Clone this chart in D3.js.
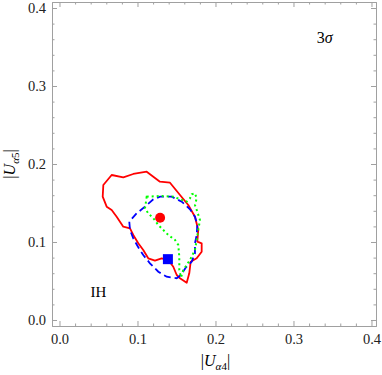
<!DOCTYPE html>
<html>
<head>
<meta charset="utf-8">
<script src="https://cdn.jsdelivr.net/npm/d3@7"></script>
<style>
	body { margin: 0; background: #fff; }
	svg text { font-family: 'Liberation Serif', 'DejaVu Serif', serif; }
</style>
</head>
<body>
<div id="graphic"></div>
<script>
// contour values: [|U_a4|, |U_a5|]
const redContour = [
	[0.0669, 0.1859], [0.0818, 0.1829], [0.0946, 0.1872], [0.1118, 0.1901], [0.1288, 0.1773],
	[0.1417, 0.1760], [0.1545, 0.1603], [0.1651, 0.1474], [0.1737, 0.1324], [0.1779, 0.1154],
	[0.1767, 0.1004], [0.1823, 0.0983], [0.1823, 0.0876], [0.1759, 0.0791], [0.1682, 0.0747],
	[0.1664, 0.0599], [0.1631, 0.0478], [0.1545, 0.0535], [0.1503, 0.0577], [0.1459, 0.0683],
	[0.1395, 0.0769], [0.1310, 0.0791], [0.1224, 0.0760], [0.1138, 0.0791], [0.1074, 0.0897],
	[0.1010, 0.0983], [0.0946, 0.1090], [0.0904, 0.1176], [0.0818, 0.1196], [0.0733, 0.1324],
	[0.0669, 0.1410], [0.0605, 0.1453], [0.0554, 0.1581], [0.0562, 0.1731]
];
const blueContour = [
	[0.0895, 0.1260], [0.0904, 0.1154], [0.0946, 0.1047], [0.1010, 0.0932], [0.1074, 0.0833],
	[0.1160, 0.0727], [0.1267, 0.0619], [0.1374, 0.0555], [0.1503, 0.0535], [0.1558, 0.0577],
	[0.1622, 0.0676], [0.1695, 0.0747], [0.1737, 0.0855], [0.1737, 0.0983], [0.1759, 0.1090],
	[0.1767, 0.1218], [0.1737, 0.1324], [0.1673, 0.1419], [0.1567, 0.1517], [0.1438, 0.1581],
	[0.1288, 0.1581], [0.1203, 0.1547], [0.1096, 0.1453], [0.0990, 0.1368]
];
const greenContour = [
	[0.1118, 0.1581], [0.1288, 0.1590], [0.1459, 0.1581], [0.1631, 0.1517], [0.1673, 0.1560],
	[0.1695, 0.1612], [0.1737, 0.1624], [0.1759, 0.1560], [0.1737, 0.1474], [0.1767, 0.1388],
	[0.1801, 0.1282], [0.1779, 0.1154], [0.1759, 0.1026], [0.1737, 0.0897], [0.1673, 0.0769],
	[0.1587, 0.0641], [0.1558, 0.0547], [0.1536, 0.0641], [0.1536, 0.0812], [0.1523, 0.0962],
	[0.1481, 0.1026], [0.1395, 0.1090], [0.1331, 0.1154], [0.1267, 0.1218], [0.1203, 0.1304],
	[0.1138, 0.1368], [0.1096, 0.1432], [0.1109, 0.1517]
];
const redPoint = [0.129, 0.131];
const bluePoint = [0.139, 0.078];
const majorTicks = [0, 0.1, 0.2, 0.3, 0.4];
const minorTicks = [0.02, 0.04, 0.06, 0.08, 0.12, 0.14, 0.16, 0.18, 0.22, 0.24, 0.26, 0.28, 0.32, 0.34, 0.36, 0.38];

let width = 382, height = 375;
let margin = { top: 2, right: 6, bottom: 49, left: 52 };
let chart_width = width - margin.left - margin.right;
let chart_height = height - margin.top - margin.bottom;

const x = d3.scaleLinear().domain([-0.0096, 0.4058]).range([0, chart_width]);
const y = d3.scaleLinear().domain([-0.0077, 0.4077]).range([chart_height, 0]);

let svg = d3.select('#graphic')
	.append('svg')
	.attr('width', width)
	.attr('height', height)
	.append('g')
	.attr('transform', 'translate(' + margin.left + ',' + margin.top + ')');

const frameColor = '#a0a0a0';

// frame with ticks pointing inward on all sides
function addAxis(gen, tx, ty, labels) {
	let g = svg.append('g')
		.attr('transform', 'translate(' + tx + ',' + ty + ')')
		.call(gen);
	g.select('.domain').attr('stroke', frameColor).attr('stroke-width', 1);
	g.selectAll('.tick line').attr('stroke', frameColor);
	g.selectAll('.tick text')
		.attr('fill', '#222')
		.style('font-size', '14.5px');
	if (!labels) g.selectAll('.tick text').remove();
	return g;
}

addAxis(d3.axisBottom(x).tickValues(majorTicks).tickSize(-5).tickPadding(8).tickFormat(d3.format('.1f')).tickSizeOuter(0), 0, chart_height, true);
addAxis(d3.axisBottom(x).tickValues(minorTicks).tickSize(-2.5).tickSizeOuter(0), 0, chart_height, false);
addAxis(d3.axisTop(x).tickValues(majorTicks).tickSize(-5).tickSizeOuter(0), 0, 0, false);
addAxis(d3.axisTop(x).tickValues(minorTicks).tickSize(-2.5).tickSizeOuter(0), 0, 0, false);
addAxis(d3.axisLeft(y).tickValues(majorTicks).tickSize(-5).tickPadding(6).tickFormat(d3.format('.1f')).tickSizeOuter(0), 0, 0, true);
addAxis(d3.axisLeft(y).tickValues(minorTicks).tickSize(-2.5).tickSizeOuter(0), 0, 0, false);
addAxis(d3.axisRight(y).tickValues(majorTicks).tickSize(-5).tickSizeOuter(0), chart_width, 0, false);
addAxis(d3.axisRight(y).tickValues(minorTicks).tickSize(-2.5).tickSizeOuter(0), chart_width, 0, false);

let line = d3.line()
	.x(d => x(d[0]))
	.y(d => y(d[1]))
	.curve(d3.curveLinearClosed);

svg.append('path')
	.attr('d', line(redContour))
	.attr('fill', 'none')
	.attr('stroke', '#ff0000')
	.attr('stroke-width', 1.8)
	.attr('stroke-linejoin', 'round');

svg.append('path')
	.attr('d', line(blueContour))
	.attr('fill', 'none')
	.attr('stroke', '#0000ff')
	.attr('stroke-width', 1.8)
	.attr('stroke-dasharray', '7,4');

svg.append('path')
	.attr('d', line(greenContour))
	.attr('fill', 'none')
	.attr('stroke', '#00ff00')
	.attr('stroke-width', 2)
	.attr('stroke-dasharray', '2,3');

svg.append('circle')
	.attr('cx', x(redPoint[0]))
	.attr('cy', y(redPoint[1]))
	.attr('r', 5)
	.attr('fill', '#ff0000');

svg.append('rect')
	.attr('x', x(bluePoint[0]) - 5)
	.attr('y', y(bluePoint[1]) - 5)
	.attr('width', 10)
	.attr('height', 10)
	.attr('fill', '#0000ff');

// annotations
svg.append('text')
	.attr('x', x(0.34))
	.attr('y', y(0.355))
	.attr('text-anchor', 'middle')
	.style('font-size', '16px')
	.html('3<tspan font-style="italic">σ</tspan>');

svg.append('text')
	.attr('x', x(0.05))
	.attr('y', y(0.03))
	.attr('text-anchor', 'middle')
	.style('font-size', '15px')
	.text('IH');

// axis labels
svg.append('text')
	.attr('x', x(0.2))
	.attr('y', chart_height + 40)
	.attr('text-anchor', 'middle')
	.style('font-size', '16px')
	.html('|<tspan font-style="italic">U</tspan><tspan font-size="11px" dy="4"><tspan font-style="italic">α</tspan>4</tspan><tspan dy="-4">|</tspan>');

svg.append('text')
	.attr('transform', 'translate(' + (-37) + ',' + y(0.2) + ') rotate(-90)')
	.attr('text-anchor', 'middle')
	.style('font-size', '16px')
	.html('|<tspan font-style="italic">U</tspan><tspan font-size="11px" dy="4"><tspan font-style="italic">α</tspan>5</tspan><tspan dy="-4">|</tspan>');
</script>
</body>
</html>
